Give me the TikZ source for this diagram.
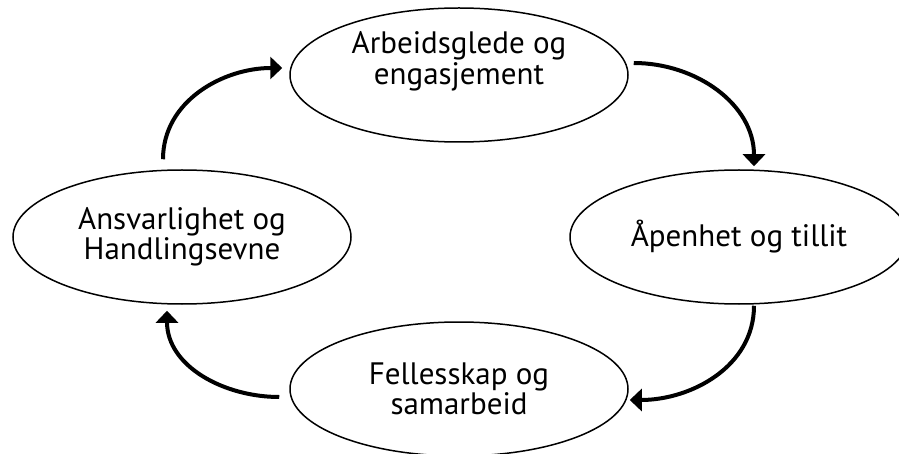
\documentclass[tikz,border=0pt]{standalone}
\usepackage{fontspec}
\setmainfont{PT Sans}
\usetikzlibrary{shapes,calc,arrows.meta}

\begin{document}
\begin{tikzpicture}[x=0.5pt,y=0.5pt,
    stage/.style={ellipse,draw,line width=0.75pt,minimum width=169pt,minimum height=67pt,
      inner sep=0pt,align=center,font=\fontsize{15.5}{13.5}\selectfont},
    flow/.style={-{Triangle[length=6pt,width=11pt]},line width=2pt}]
    \useasboundingbox (0,0) rectangle (899,-454);
    \node[stage,text depth=17pt] (glede) at (459,-75) {Arbeidsglede og\\engasjement};
    \node[stage] (tillit) at (739,-237) {Åpenhet og tillit};
    \node[stage] (felles) at (459,-389) {Fellesskap og\\samarbeid};
    \node[stage] (ansvar) at (182,-237) {Ansvarlighet og\\Handlingsevne};
    \draw [flow] ($(ansvar.north)+(-19,10)$) to[out=90,in=180] ($(glede.west)+(-7,7)$);
    \draw [flow] ($(glede.east)+(5,12)$) to[out=0,in=90] ($(tillit.north)+(15,3)$);
    \draw [flow] ($(tillit.south)+(15,-1)$) to[out=-90,in=0] ($(felles.east)+(1,-11)$);
    \draw [flow] ($(felles.west)+(-10,-8)$) to[out=180,in=-90] ($(ansvar.south)+(-15,-6)$);
  \end{tikzpicture}
\end{document}
